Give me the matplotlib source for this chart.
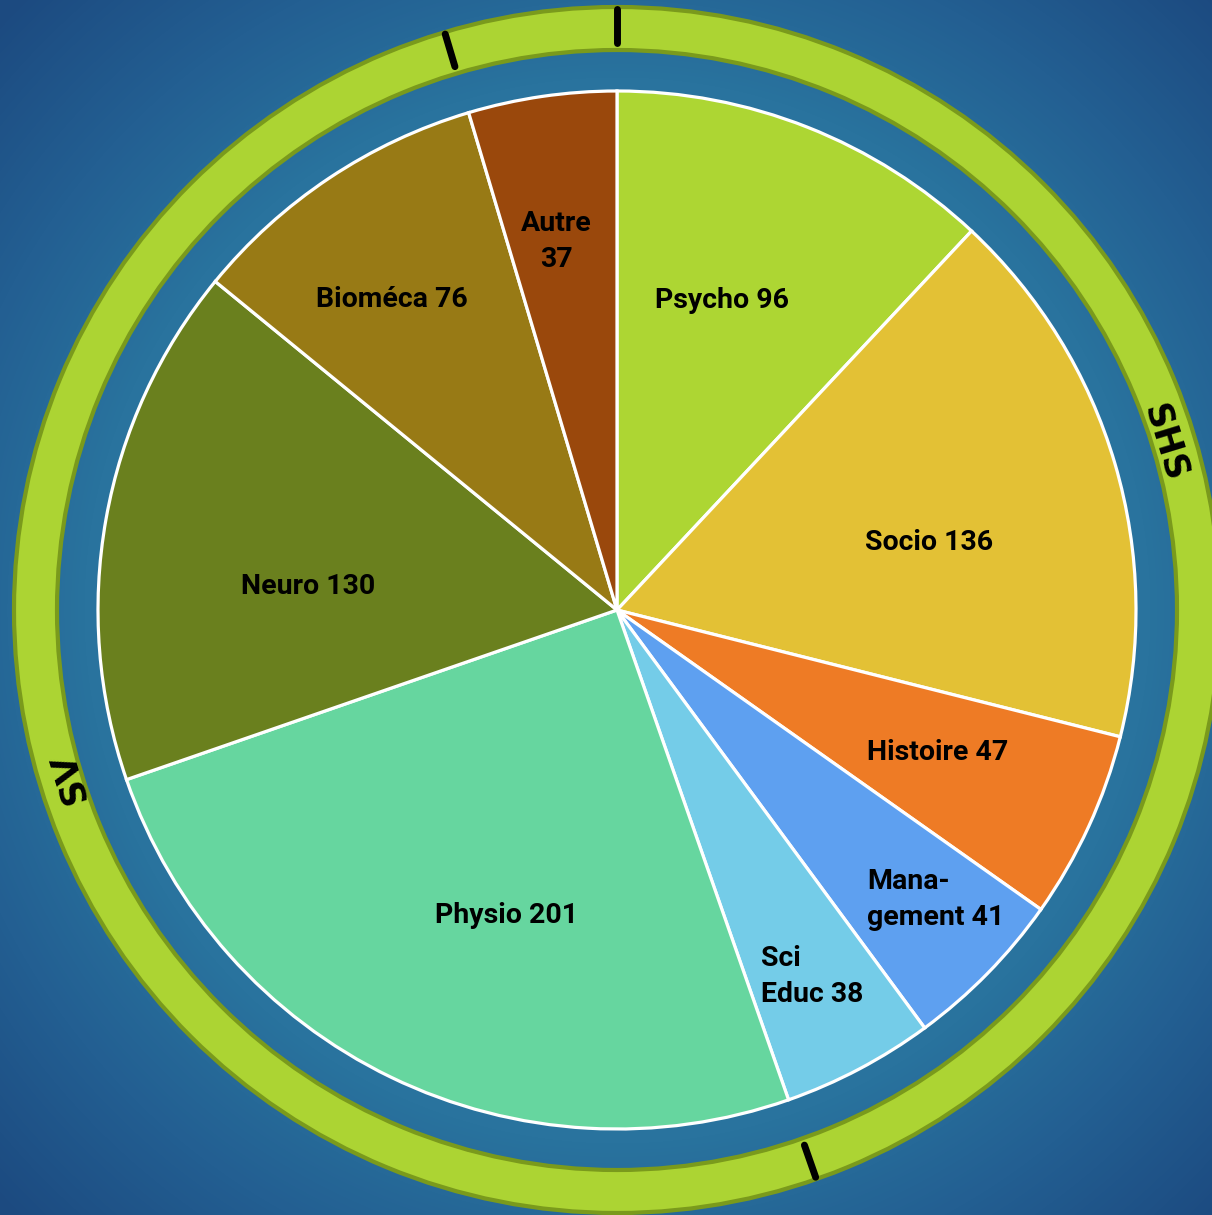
import numpy as np
import matplotlib.pyplot as plt
from matplotlib.patches import Wedge
from matplotlib.colors import LinearSegmentedColormap

# slices, clockwise from 12 o'clock
names = ["Psycho", "Socio", "Histoire", "Mana-\ngement", "Sci\nEduc",
         "Physio", "Neuro", "Bioméca", "Autre"]
values = [96, 136, 47, 41, 38, 201, 130, 76, 37]
groups = ["SHS", "SHS", "SHS", "SHS", "SHS", "SV", "SV", "SV", None]
value_on_new_line = ["Autre"]

colors = ["#add633", "#e3c135", "#ee7b25", "#5ea0f0", "#74cce8",
          "#66d69f", "#6a801e", "#987a15", "#9a480c"]

# label placement: (fraction of radius, angular nudge in degrees)
label_pos = [(0.63, 2.8), (0.615, -4.1), (0.676, 0.8), (0.83, 2.2), (0.80, 0.2),
             (0.626, 6.0), (0.597, 5.7), (0.738, 2.3), (0.72, 1.1)]
group_label_angle = {"SHS": 17, "SV": 197}

W, H = 1212, 1215
cx, cy = 617, 605
R = 519
ring_out, ring_w = 603, 43

fig = plt.figure(figsize=(W / 100, H / 100), dpi=100)
ax = fig.add_axes([0, 0, 1, 1])

# radial blue background
yy, xx = np.mgrid[0:H, 0:W]
dist = np.hypot(xx - cx, (H - yy) - cy) / np.hypot(W, H) * 2
bg = LinearSegmentedColormap.from_list(
    "bg", [(0, "#2d7fa5"), (0.62, "#29739e"), (0.8, "#235f92"), (1.0, "#1c4a80")])
ax.imshow(np.clip(dist, 0, 1), cmap=bg, extent=[0, W, 0, H], origin="upper",
          aspect="auto", zorder=0, vmin=0, vmax=1)

# outer ring
ax.add_patch(Wedge((cx, cy), ring_out, 0, 360, width=ring_w,
                   facecolor="#acd433", edgecolor="#7a9a1c", lw=3, zorder=1))

wedges, _ = ax.pie(values, colors=colors, startangle=90, counterclock=False,
                   center=(cx, cy), radius=R, frame=True,
                   wedgeprops=dict(edgecolor="white", linewidth=2.3))
ax.set_xlim(0, W)
ax.set_ylim(0, H)
ax.axis("off")
for w in wedges:
    w.set_zorder(2)

for w, n, v, (f, da) in zip(wedges, names, values, label_pos):
    sep = "\n" if n in value_on_new_line else " "
    ang = np.deg2rad((w.theta1 + w.theta2) / 2 + da)
    ax.text(cx + f * R * np.cos(ang), cy + f * R * np.sin(ang), f"{n}{sep}{v}",
            ha="center", va="center", multialignment="center" if sep == "\n" else "left",
            fontsize=20.5, fontweight="bold", family="Roboto", color="black",
            linespacing=1.45, zorder=3)

# tick marks on the ring where the group changes (clockwise: slice ends at theta1)
for i, w in enumerate(wedges):
    if groups[i] != groups[(i + 1) % len(groups)]:
        a = np.deg2rad(w.theta1)
        r0, r1 = ring_out - 36, ring_out - 2
        ax.plot([cx + r0 * np.cos(a), cx + r1 * np.cos(a)],
                [cy + r0 * np.sin(a), cy + r1 * np.sin(a)],
                color="black", lw=5, solid_capstyle="round", zorder=4)

r_mid = ring_out - ring_w / 2 - 8
for g, a in group_label_angle.items():
    t = np.deg2rad(a)
    ax.text(cx + r_mid * np.cos(t), cy + r_mid * np.sin(t), g,
            rotation=a - 90, rotation_mode="anchor", ha="center", va="center",
            fontsize=25, fontweight="bold", family="DejaVu Sans", color="black",
            zorder=4)

fig.savefig("out.png", dpi=100)
